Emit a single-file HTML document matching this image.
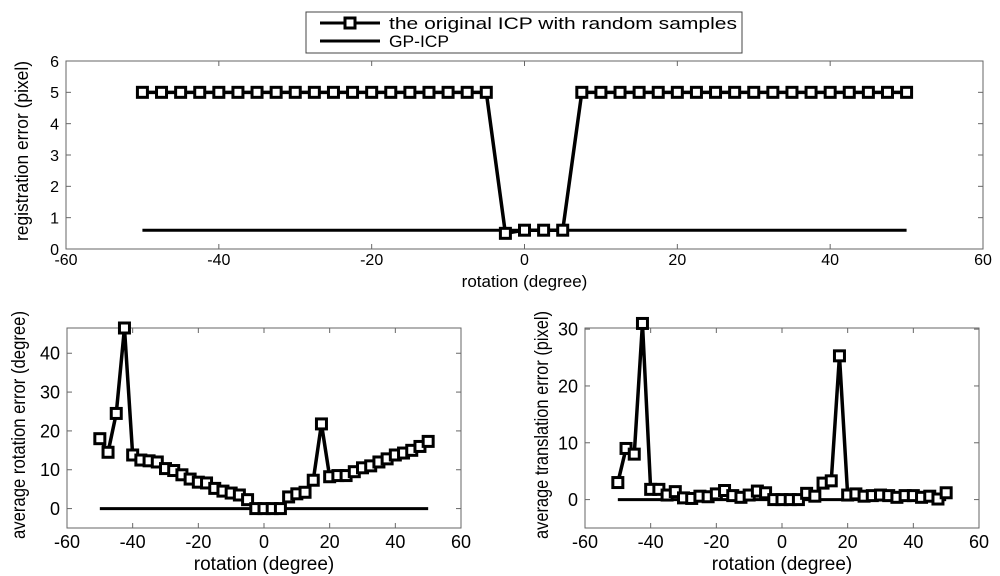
<!DOCTYPE html>
<html><head><meta charset="utf-8"><style>
body{margin:0;background:#fff;width:1000px;height:576px;overflow:hidden}
svg{display:block;font-family:"Liberation Sans",Arial,sans-serif}
</style></head><body>
<svg id="fig" width="1000" height="576"></svg>
<script>
const xAngles=[];for(let i=0;i<41;i++)xAngles.push(-50+i*2.5);
const regICP=[5,5,5,5,5,5,5,5,5,5,5,5,5,5,5,5,5,5,5,0.5,0.6,0.6,0.6,5,5,5,5,5,5,5,5,5,5,5,5,5,5,5,5,5,5];
const regGP=0.6;
const rotICP=[18,14.5,24.5,46.5,13.8,12.5,12.3,12,10.3,9.8,8.7,7.6,6.8,6.6,5.2,4.5,4,3.5,2.3,0,0,0,0,3,3.8,4.2,7.3,21.8,8.2,8.5,8.5,9.5,10.5,11,12,12.8,13.8,14.3,15,16,17.3];
const rotGP=0;
const transICP=[3,9,8,31,1.8,1.8,0.8,1.4,0.3,0.2,0.6,0.5,1,1.6,0.7,0.4,0.8,1.5,1.2,0,0,0,0,1.1,0.6,2.9,3.3,25.3,0.8,1,0.6,0.7,0.8,0.7,0.4,0.7,0.7,0.4,0.6,0.1,1.2];
const transGP=0;
const xTicks=[-60,-40,-20,0,20,40,60];
const topYTicks=[0,1,2,3,4,5,6];
const rotYTicks=[0,10,20,30,40];
const transYTicks=[0,10,20,30];

const NS="http://www.w3.org/2000/svg";
const svg=document.getElementById('fig');
function mk(tag,attrs,parent){const e=document.createElementNS(NS,tag);for(const k in attrs)e.setAttribute(k,attrs[k]);(parent||svg).appendChild(e);return e;}

function panel(name,box,xr,yr,yTicks,icp,gp,ylabel,fs,lab){
  const g=mk('g',{});
  
  
  const sx=v=>box.l+(v-xr[0])/(xr[1]-xr[0])*(box.r-box.l);
  const sy=v=>box.b-(v-yr[0])/(yr[1]-yr[0])*(box.b-box.t);
  const frame=mk('rect',{x:box.l,y:box.t,width:box.r-box.l,height:box.b-box.t,fill:'none',stroke:'#666','stroke-width':1},g);
  
  
  xTicks.forEach(t=>{
    const x=sx(t);
    mk('line',{x1:x,x2:x,y1:box.b,y2:box.b-5,stroke:'#666'},g);
    mk('line',{x1:x,x2:x,y1:box.t,y2:box.t+5,stroke:'#666'},g);
    const tx=mk('text',{x:x,y:box.b+lab.xty,'text-anchor':'middle','font-size':fs},g);
    tx.textContent=t;
    
    
  });
  yTicks.forEach(t=>{
    const y=sy(t);
    mk('line',{x1:box.l,x2:box.l+5,y1:y,y2:y,stroke:'#666'},g);
    mk('line',{x1:box.r,x2:box.r-5,y1:y,y2:y,stroke:'#666'},g);
    const tx=mk('text',{x:box.l-7,y:y+fs*0.36,'text-anchor':'end','font-size':fs},g);
    tx.textContent=t;
    
    
  });
  const xl=mk('text',{x:(box.l+box.r)/2,y:box.b+lab.xly,'text-anchor':'middle','font-size':fs+1},g);
  xl.textContent='rotation (degree)';
  
  
  const yl=mk('text',{transform:`translate(${lab.ylx},${lab.ylc}) rotate(-90)`,'text-anchor':'middle','font-size':lab.yfs,textLength:lab.ylen,lengthAdjust:'spacingAndGlyphs'},g);
  yl.textContent=ylabel;
  
  
  const gpl=mk('line',{x1:sx(xAngles[0]),x2:sx(xAngles[xAngles.length-1]),y1:sy(gp),y2:sy(gp),stroke:'#000','stroke-width':3},g);
  
  
  const pts=xAngles.map((x,i)=>sx(x)+','+sy(icp[i])).join(' ');
  const pl=mk('polyline',{points:pts,fill:'none',stroke:'#000','stroke-width':3.5},g);
  
  
  xAngles.forEach((x,i)=>{
    const m=mk('rect',{x:sx(x)-5,y:sy(icp[i])-5,width:10,height:10,fill:'#fff',stroke:'#000','stroke-width':3},g);
    
    
  });
}
panel('top-panel',{l:66,r:983,t:61,b:249},[-60,60],[0,6],topYTicks,regICP,regGP,'registration error (pixel)',16,
  {xty:16,xly:38,ylx:28,ylc:151,yfs:18,ylen:180});
panel('rotation-panel',{l:67,r:461,t:328,b:528},[-60,60],[-5,46.5],rotYTicks,rotICP,rotGP,'average rotation error (degree)',18,
  {xty:20,xly:42,ylx:25,ylc:425,yfs:19,ylen:228});
panel('translation-panel',{l:585,r:979,t:328,b:528},[-60,60],[-5,30.2],transYTicks,transICP,transGP,'average translation error (pixel)',18,
  {xty:20,xly:42,ylx:548,ylc:425,yfs:19,ylen:228});

// legend
const lg=mk('g',{});


mk('rect',{x:306,y:12,width:436,height:41,fill:'#fff',stroke:'#444'},lg);
mk('line',{x1:320,x2:380,y1:23,y2:23,stroke:'#000','stroke-width':3},lg);
mk('rect',{x:345,y:18,width:10,height:10,fill:'#fff',stroke:'#000','stroke-width':3},lg);
const t1=mk('text',{x:389,y:29,'font-size':17,textLength:348,lengthAdjust:'spacingAndGlyphs'},lg);
t1.textContent='the original ICP with random samples';


mk('line',{x1:320,x2:380,y1:41,y2:41,stroke:'#000','stroke-width':3},lg);
const t2=mk('text',{x:389,y:47,'font-size':17,textLength:60,lengthAdjust:'spacingAndGlyphs'},lg);
t2.textContent='GP-ICP';


</script>
</body></html>
